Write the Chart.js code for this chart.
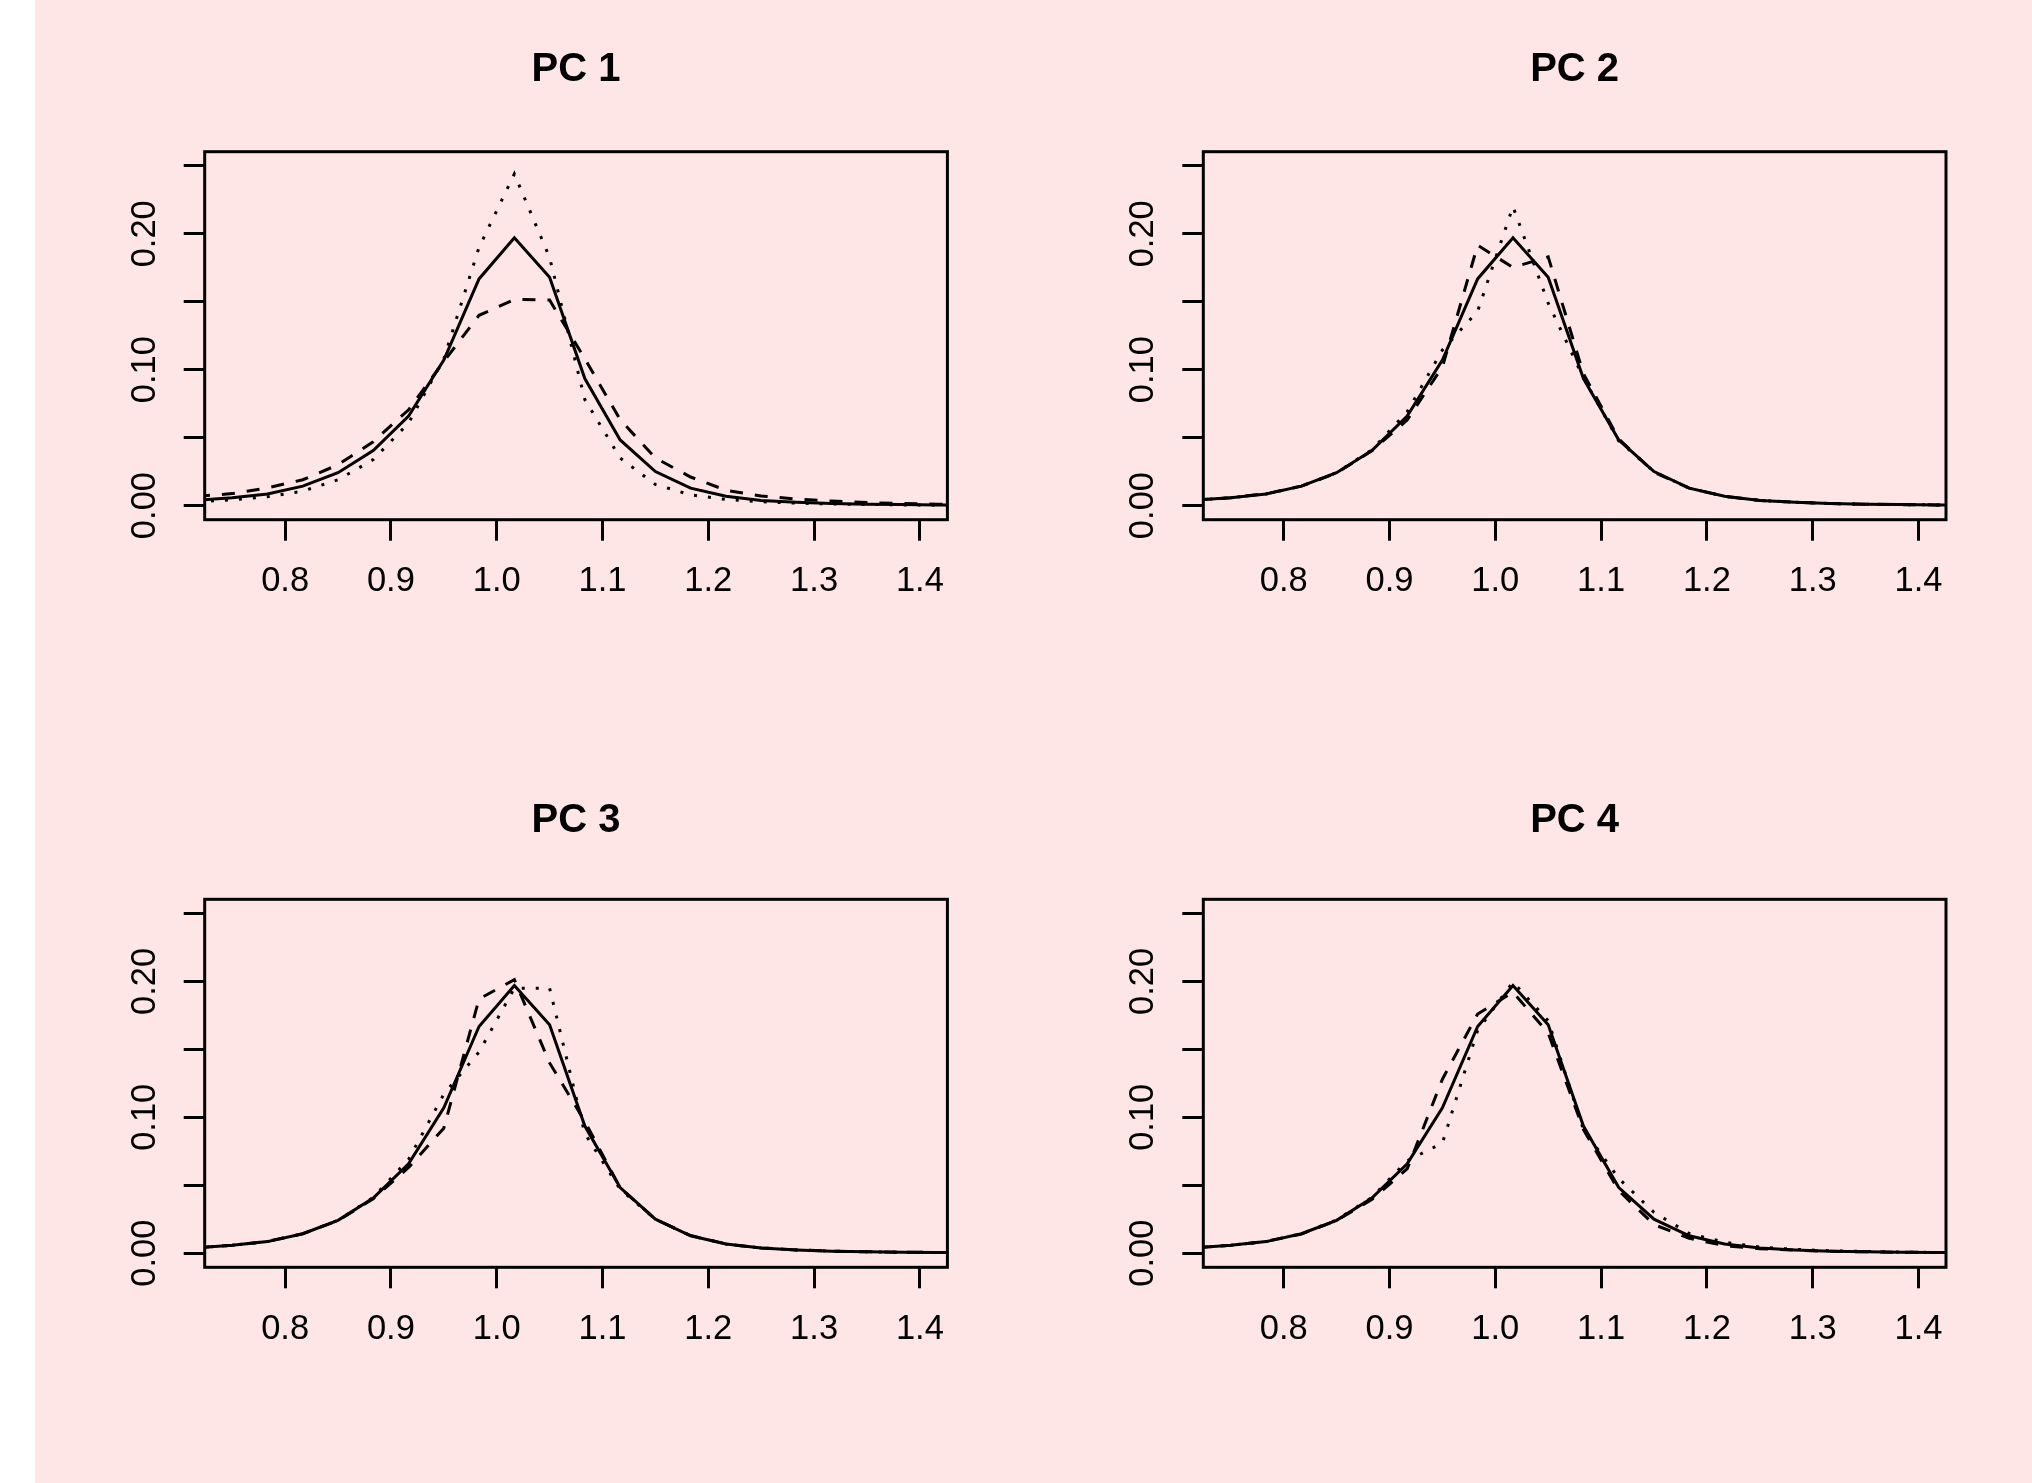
<!DOCTYPE html>
<html>
<head>
<meta charset="utf-8">
<title>PC densities</title>
<script src="https://cdn.jsdelivr.net/npm/chart.js@4.4.1/dist/chart.umd.min.js"></script>
<style>
    body { margin: 0; width: 2032px; height: 1483px; overflow: hidden; position: relative; background: #ffffff; }
    #bg { position: absolute; left: 35px; top: 0; width: 1997px; height: 1483px; background: #fee6e6; }
    canvas { position: absolute; }
    .title { position: absolute; width: 400px; text-align: center; white-space: nowrap;
             font-family: "Liberation Sans", Arial, sans-serif; font-weight: bold; font-size: 40px; line-height: 40px; color: #000; }
</style>
</head>
<body>
<div id="bg"></div>
<canvas id="pc1" width="1016" height="742" style="left:0px;top:0px"></canvas>
<canvas id="pc2" width="1016" height="742" style="left:1016px;top:0px"></canvas>
<canvas id="pc3" width="1016" height="741" style="left:0px;top:742px"></canvas>
<canvas id="pc4" width="1016" height="741" style="left:1016px;top:742px"></canvas>

<script>
// --- data ------------------------------------------------------------

var panelTitles = ["PC 1", "PC 2", "PC 3", "PC 4"];

// evaluation grid of the density curves
var densityX = [0.7167, 0.75, 0.7833, 0.8167, 0.85, 0.8833, 0.9167, 0.95, 0.9833, 1.0167, 1.05, 1.0833,
                1.1167, 1.15, 1.1833, 1.2167, 1.25, 1.2833, 1.3167, 1.35, 1.3833, 1.4167, 1.45];

// solid curve, same in every panel
var densityRef = [0.0040, 0.0058, 0.0085, 0.0143, 0.0242, 0.0405, 0.0658, 0.1070, 0.1668, 0.1970, 0.1680, 0.0935,
                  0.0483, 0.0250, 0.0128, 0.0068, 0.0038, 0.0024, 0.0015, 0.0010, 0.0007, 0.0005, 0.0003];

var pc1Dashed = [0.0068, 0.0088, 0.0130, 0.0190, 0.0300, 0.0470, 0.0705, 0.1060, 0.1400, 0.1517, 0.1512, 0.1080,
                 0.0632, 0.0350, 0.0210, 0.0113, 0.0070, 0.0048, 0.0033, 0.0022, 0.0015, 0.0010, 0.0007];
var pc1Dotted = [0.0028, 0.0042, 0.0065, 0.0106, 0.0190, 0.0338, 0.0607, 0.1080, 0.1900, 0.2440, 0.1825, 0.0780,
                 0.0350, 0.0155, 0.0079, 0.0045, 0.0028, 0.0018, 0.0012, 0.0008, 0.0005, 0.0003, 0.0002];

var pc2Dashed = [0.0040, 0.0058, 0.0087, 0.0143, 0.0240, 0.0403, 0.0630, 0.1020, 0.1916, 0.1752, 0.1830, 0.0970,
                 0.0490, 0.0245, 0.0128, 0.0068, 0.0038, 0.0024, 0.0015, 0.0010, 0.0007, 0.0005, 0.0003];
var pc2Dotted = [0.0040, 0.0058, 0.0085, 0.0143, 0.0242, 0.0410, 0.0690, 0.1145, 0.1430, 0.2200, 0.1490, 0.0940,
                 0.0475, 0.0250, 0.0128, 0.0068, 0.0038, 0.0024, 0.0015, 0.0010, 0.0007, 0.0005, 0.0003];

var pc3Dashed = [0.0040, 0.0058, 0.0087, 0.0143, 0.0240, 0.0400, 0.0630, 0.0920, 0.1870, 0.2013, 0.1400, 0.0970,
                 0.0480, 0.0250, 0.0130, 0.0068, 0.0038, 0.0024, 0.0015, 0.0010, 0.0007, 0.0005, 0.0003];
var pc3Dotted = [0.0040, 0.0058, 0.0085, 0.0143, 0.0242, 0.0410, 0.0690, 0.1170, 0.1480, 0.1950, 0.1950, 0.0880,
                 0.0470, 0.0250, 0.0128, 0.0068, 0.0038, 0.0024, 0.0015, 0.0010, 0.0007, 0.0005, 0.0003];

var pc4Dashed = [0.0040, 0.0058, 0.0087, 0.0140, 0.0240, 0.0395, 0.0620, 0.1280, 0.1760, 0.1920, 0.1620, 0.0910,
                 0.0460, 0.0210, 0.0110, 0.0055, 0.0033, 0.0022, 0.0014, 0.0010, 0.0007, 0.0005, 0.0003];
var pc4Dotted = [0.0040, 0.0058, 0.0085, 0.0143, 0.0245, 0.0410, 0.0680, 0.0810, 0.1640, 0.1995, 0.1710, 0.0910,
                 0.0550, 0.0300, 0.0145, 0.0080, 0.0045, 0.0028, 0.0018, 0.0012, 0.0008, 0.0005, 0.0003];

var xTickValues = [0.8, 0.9, 1.0, 1.1, 1.2, 1.3, 1.4];
var xTickLabels = ["0.8", "0.9", "1.0", "1.1", "1.2", "1.3", "1.4"];
var yTickValues = [0.00, 0.05, 0.10, 0.15, 0.20, 0.25];
var yTickLabels = ["0.00", "", "0.10", "", "0.20", ""];

var xRange = [0.724, 1.426];   // R: xlim c(0.75, 1.4) + 4%
var yRange = [-0.0104, 0.2604]; // R: ylim c(0, 0.25) + 4%

// --- layout (page pixels) ---------------------------------------------

var BOX_LEFT = [204.7, 1203.3];
var BOX_WIDTH = 742.7;
var BOX_TOP = [151.7, 899.3];
var BOX_HEIGHT = 368;
var TITLE_TOP = [47, 798];
var Y_AXIS_W = 110;
var X_AXIS_H = 110;
var LINE_W = 3;
var FONT = {family: '"Liberation Sans", Arial, sans-serif', size: 34.5};

// ----------------------------------------------------------------------

var plotBox = {
    id: 'plotBox',
    afterDatasetsDraw: function (chart) {
        var a = chart.chartArea;
        var ctx = chart.ctx;
        ctx.save();
        ctx.strokeStyle = '#000';
        ctx.lineWidth = LINE_W;
        ctx.strokeRect(a.left, a.top, a.right - a.left, a.bottom - a.top);
        ctx.restore();
    }
};

function toPoints(ys) {
    return densityX.map(function (x, i) { return {x: x, y: ys[i]}; });
}

function curve(ys, dash) {
    return {
        data: toPoints(ys),
        borderColor: '#000',
        borderWidth: LINE_W,
        borderDash: dash,
        borderCapStyle: 'butt',
        pointRadius: 0,
        tension: 0,
        clip: 0
    };
}

function renderPanel(idx, dashed, dotted) {
    var canvas = document.getElementById('pc' + (idx + 1));
    var col = idx % 2, row = Math.floor(idx / 2);
    var qx = col * 1016, qy = row * 742;
    var boxL = BOX_LEFT[col], boxT = BOX_TOP[row];

    var title = document.createElement('div');
    title.className = 'title';
    title.textContent = panelTitles[idx];
    title.style.left = (boxL + BOX_WIDTH / 2 - 200) + 'px';
    title.style.top = TITLE_TOP[row] + 'px';
    document.body.appendChild(title);

    new Chart(canvas.getContext('2d'), {
        type: 'line',
        data: {
            datasets: [curve(densityRef, []), curve(dashed, [13, 12]), curve(dotted, [3, 11])]
        },
        options: {
            responsive: false,
            animation: false,
            devicePixelRatio: 1,
            events: [],
            layout: {
                padding: {
                    left: boxL - qx - Y_AXIS_W,
                    top: boxT - qy,
                    right: qx + canvas.width - (boxL + BOX_WIDTH),
                    bottom: qy + canvas.height - (boxT + BOX_HEIGHT) - X_AXIS_H
                }
            },
            plugins: {legend: {display: false}, tooltip: {enabled: false}, title: {display: false}},
            scales: {
                x: {
                    type: 'linear',
                    min: xRange[0], max: xRange[1], bounds: 'data',
                    border: {display: false},
                    grid: {drawOnChartArea: false, drawTicks: true, tickLength: 21, color: '#000', lineWidth: LINE_W},
                    ticks: {
                        autoSkip: false, maxRotation: 0, minRotation: 0, padding: 20, color: '#000', font: FONT,
                        callback: function (v, i) { return xTickLabels[i]; }
                    },
                    afterBuildTicks: function (s) { s.ticks = xTickValues.map(function (v) { return {value: v}; }); },
                    afterFit: function (s) { s.height = X_AXIS_H; }
                },
                y: {
                    type: 'linear',
                    min: yRange[0], max: yRange[1], bounds: 'data',
                    border: {display: false},
                    grid: {drawOnChartArea: false, drawTicks: true, tickLength: 21, color: '#000', lineWidth: LINE_W},
                    ticks: {
                        autoSkip: false, minRotation: 90, maxRotation: 90, crossAlign: 'center', padding: 5,
                        color: '#000', font: FONT,
                        callback: function (v, i) { return yTickLabels[i]; }
                    },
                    afterBuildTicks: function (s) { s.ticks = yTickValues.map(function (v) { return {value: v}; }); },
                    afterFit: function (s) { s.width = Y_AXIS_W; }
                }
            }
        },
        plugins: [plotBox]
    });
}

renderPanel(0, pc1Dashed, pc1Dotted);
renderPanel(1, pc2Dashed, pc2Dotted);
renderPanel(2, pc3Dashed, pc3Dotted);
renderPanel(3, pc4Dashed, pc4Dotted);
</script>
</body>
</html>
